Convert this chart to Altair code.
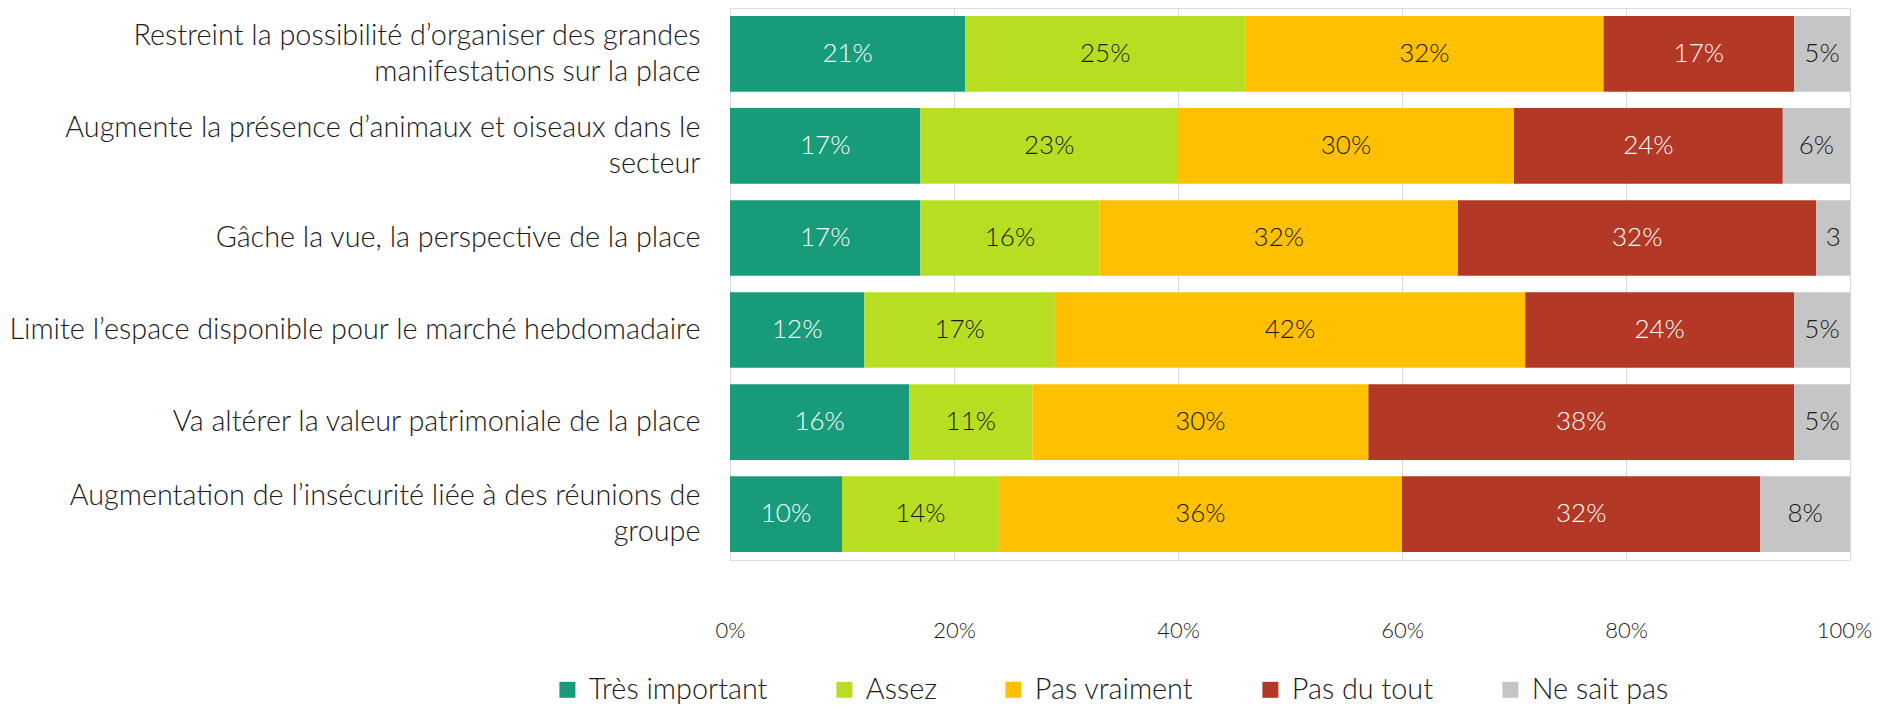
import altair as alt
import pandas as pd

categories = [
    "Restreint la possibilité d’organiser des grandes\nmanifestations sur la place",
    "Augmente la présence d’animaux et oiseaux dans le\nsecteur",
    "Gâche la vue, la perspective de la place",
    "Limite l’espace disponible pour le marché hebdomadaire",
    "Va altérer la valeur patrimoniale de la place",
    "Augmentation de l’insécurité liée à des réunions de\ngroupe",
]
series = ["Très important", "Assez", "Pas vraiment", "Pas du tout", "Ne sait pas"]
tres_important = [21, 17, 17, 12, 16, 10]
assez = [25, 23, 16, 17, 11, 14]
pas_vraiment = [32, 30, 32, 42, 30, 36]
pas_du_tout = [17, 24, 32, 24, 38, 32]
ne_sait_pas = [5, 6, 3, 5, 5, 8]
tick_values = [0, 20, 40, 60, 80, 100]

colors = ["#189B7B", "#B8DE22", "#FFC000", "#B33826", "#C5C5C5"]
label_dark = [False, True, True, False, True]

values = [tres_important, assez, pas_vraiment, pas_du_tout, ne_sait_pas]
rows = []
for si, s in enumerate(series):
    for ci, c in enumerate(categories):
        rows.append({"cat": c, "series": s, "value": values[si][ci],
                     "order": si, "dark": label_dark[si]})
df = pd.DataFrame(rows)

FONT = "Lato"
TXT = "#1a1a1a"

base = alt.Chart(df).transform_stack(
    stack="value", as_=["x0", "x1"], groupby=["cat"],
    sort=[alt.SortField("order", order="ascending")]
).transform_calculate(
    mid="(datum.x0 + datum.x1) / 2",
    lab="datum.value < 4 ? '' + datum.value : datum.value + '%'",
)

x_scale = alt.Scale(domain=[0, 100], nice=False, zero=True)
y_scale = alt.Scale(paddingInner=0.177, paddingOuter=0.088)

y_axis = alt.Axis(
    title=None, labelExpr="split(datum.label, '\\n')", labelFontSize=28.8,
    labelFont=FONT, labelFontWeight=300, labelLineHeight=36, labelPadding=30,
    ticks=False, domain=False, labelLimit=900, labelAlign="right",
    labelBaseline="middle", labelColor=TXT, grid=False,
    labelOffset={"condition": {"test": "indexof(datum.value, '\\n') >= 0", "value": -18},
                 "value": 0},
)
x_axis = alt.Axis(
    title=None, values=tick_values, labelExpr="datum.value + '%'",
    labelFontSize=22, labelFont=FONT, labelFontWeight=300, labelColor=TXT,
    ticks=False, domain=False, grid=True, gridColor="#D9D9D9", gridWidth=1,
    labelPadding=70, labelBaseline="middle", labelFlush=False,
    labelOffset={"condition": {"test": "datum.value == 100", "value": -6},
                 "value": 0},
)

bars = base.mark_bar(strokeWidth=0).encode(
    x=alt.X("x0:Q", scale=x_scale, axis=x_axis),
    x2="x1:Q",
    y=alt.Y("cat:N", sort=categories, scale=y_scale, axis=y_axis),
    color=alt.Color(
        "series:N", sort=series,
        scale=alt.Scale(domain=series, range=colors),
        legend=alt.Legend(
            title=None, orient="none", legendX=-177, legendY=667,
            direction="horizontal", columns=5, symbolType="square",
            symbolSize=256, symbolStrokeWidth=0, labelFontSize=28.8,
            labelFont=FONT, labelFontWeight=300, labelColor=TXT,
            labelOffset=7, columnPadding=62, padding=0, labelLimit=400,
        ),
    ),
    order=alt.Order("order:Q"),
)

def text_layer(dark, color):
    return base.transform_filter(
        "datum.dark" if dark else "!datum.dark"
    ).mark_text(
        font=FONT, fontSize=26, fontWeight=300, baseline="middle",
        align="center", color=color,
    ).encode(
        x=alt.X("mid:Q", scale=x_scale, axis=x_axis),
        y=alt.Y("cat:N", sort=categories, scale=y_scale, axis=y_axis),
        text="lab:N",
    )

chart = alt.layer(bars, text_layer(False, "white"), text_layer(True, "#1a1a1a")).properties(
    width=1120, height=552,
    autosize=alt.AutoSizeParams(type="none"),
    padding={"left": 722, "top": 0, "right": 24, "bottom": 145},
).configure_view(stroke=None).configure(font=FONT)

chart.save("out.html", embed_options={"renderer": "svg", "actions": False})
